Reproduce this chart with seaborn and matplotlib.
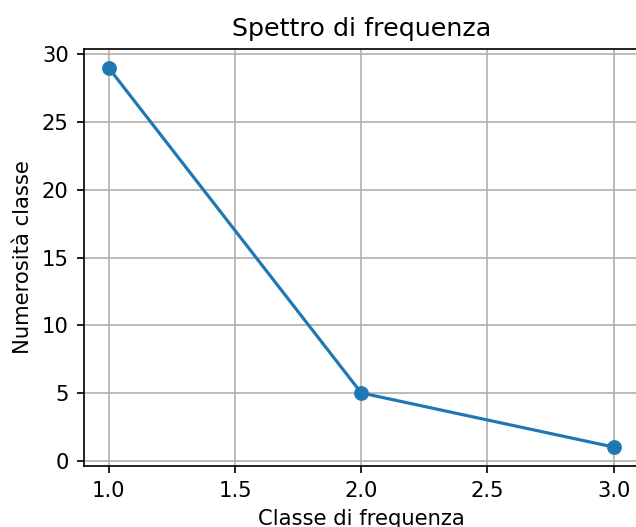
import matplotlib
matplotlib.use("Agg")
import matplotlib.pyplot as plt
import seaborn as sns
import pandas as pd

# data
classi = [1, 2, 3]
numerosita = [29, 5, 1]

df = pd.DataFrame({"classe": classi, "numerosita": numerosita})

# small figure rendered at a higher dpi, like the original
fig = plt.figure(figsize=(636 / 152, 527 / 152), dpi=152)
ax = fig.add_axes([0.1313, 0.1157, 0.8734, 0.7913])

sns.lineplot(data=df, x="classe", y="numerosita", ax=ax, marker="o",
             color="#1f77b4", markersize=6, markeredgecolor="#1f77b4",
             markeredgewidth=1, linewidth=1.5)

ax.set_title("Spettro di frequenza")
ax.set_xlabel("Classe di frequenza")
ax.set_ylabel("Numerosità classe")
ax.grid(True)

fig.savefig("out.png", dpi=152)
